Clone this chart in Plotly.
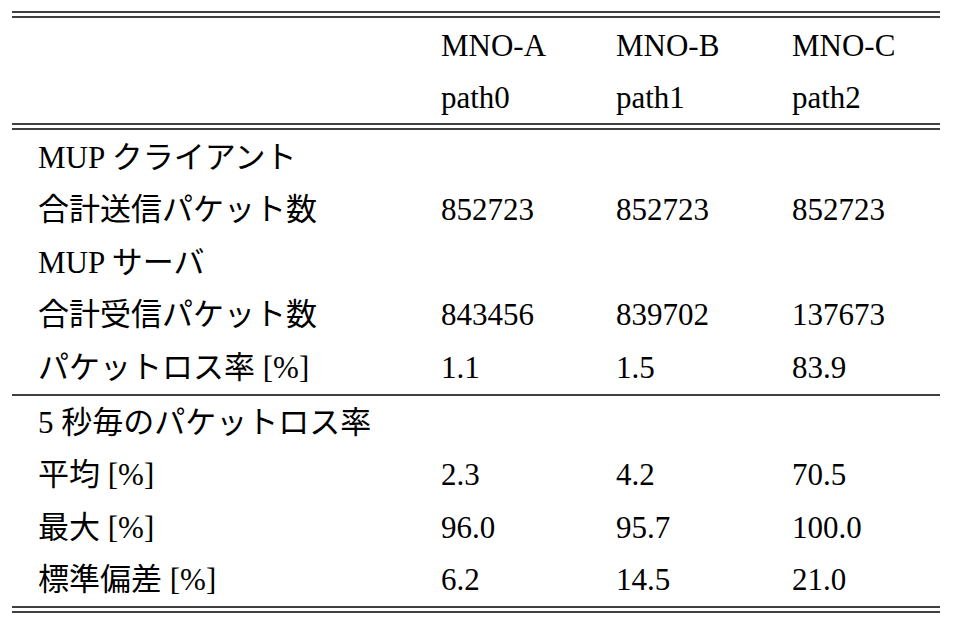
import plotly.graph_objects as go

header1 = ["", "MNO-A", "MNO-B", "MNO-C"]
header2 = ["", "path0", "path1", "path2"]
section1 = [
    ["MUP クライアント", "", "", ""],
    ["合計送信パケット数", "852723", "852723", "852723"],
    ["MUP サーバ", "", "", ""],
    ["合計受信パケット数", "843456", "839702", "137673"],
    ["パケットロス率 [%]", "1.1", "1.5", "83.9"],
]
section2 = [
    ["5 秒毎のパケットロス率", "", "", ""],
    ["平均 [%]", "2.3", "4.2", "70.5"],
    ["最大 [%]", "96.0", "95.7", "100.0"],
    ["標準偏差 [%]", "6.2", "14.5", "21.0"],
]

W, H = 954, 627
col_x = [38, 441, 616, 792]
row_h = 52.6
font = dict(family="Liberation Serif, Noto Sans CJK JP", size=31, color="black")

fig = go.Figure()
ann = []
def add_row(cells, y):
    for x, t in zip(col_x, cells):
        if t:
            ann.append(dict(x=x, y=y, text=t, xanchor="left", yanchor="middle",
                            showarrow=False, font=font, xref="x", yref="y"))

add_row(header1, 45)
add_row(header2, 45 + row_h)
y0 = 157
for i, r in enumerate(section1):
    add_row(r, y0 + i * row_h)
y1 = y0 + len(section1) * row_h + 2
for i, r in enumerate(section2):
    add_row(r, y1 + i * row_h)

shapes = []
def hline(y, w=1.5):
    shapes.append(dict(type="line", x0=14, x1=942, y0=y, y1=y, xref="x", yref="y",
                       line=dict(color="black", width=w)))
for y in (12, 17, 124, 129, 395, 607, 612):
    hline(y)

fig.update_layout(width=W, height=H, margin=dict(l=0, r=0, t=0, b=0),
                  paper_bgcolor="white", plot_bgcolor="white",
                  annotations=ann, shapes=shapes,
                  xaxis=dict(range=[10, W + 10], visible=False),
                  yaxis=dict(range=[H + 8, 8], visible=False))
fig.write_html("out.html")
